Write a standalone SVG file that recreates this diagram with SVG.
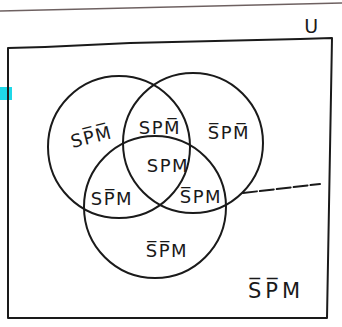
<svg xmlns="http://www.w3.org/2000/svg" width="342" height="327" viewBox="0 0 342 327">
<style>
.ln{fill:none;stroke:#1a1a1a;stroke-width:2;stroke-linecap:round;stroke-linejoin:round}
.lb{font-family:"DejaVu Sans","Liberation Sans",sans-serif;font-size:18px;fill:#1a1a1a;text-anchor:middle;letter-spacing:1.5px}
.big{font-size:21px;letter-spacing:4px}
</style>
<rect width="342" height="327" fill="#ffffff"/>
<g id="paper-edge"><path d="M0,11 L342,3" stroke="#4a3a3a" stroke-width="1.5" opacity="0.8" fill="none"/><rect x="0" y="87" width="12" height="13" fill="#1fd8e8"/></g>
<g id="universe">
<path class="ln" d="M8,48 L45,47 L130,43 L300,39 L332,38 L327,318 L8,318 Z"/>
<text x="312" y="33" class="lb" style="font-size:19px">U</text>
</g>
<g id="set-S"><circle class="ln" cx="119" cy="147" r="71"/></g>
<g id="set-P"><circle class="ln" cx="193" cy="143" r="70"/></g>
<g id="set-M"><circle class="ln" cx="155" cy="207" r="71"/></g>
<g id="connectors"><path class="ln" d="M243,193 L320,184" stroke-dasharray="14 3"/></g>
<g id="labels">
<text class="lb" transform="translate(93,143) rotate(-14)">SP̅M̅</text>
<text class="lb" x="160" y="134">SPM̅</text>
<text class="lb" x="229" y="139">S̅PM̅</text>
<text class="lb" x="168" y="172">SPM</text>
<text class="lb" x="112" y="205">SP̅M</text>
<text class="lb" x="201" y="203">S̅PM</text>
<text class="lb" x="167" y="257">S̅P̅M</text>
<text class="lb big" x="276" y="298">S̅P̅M</text>
</g>
</svg>
